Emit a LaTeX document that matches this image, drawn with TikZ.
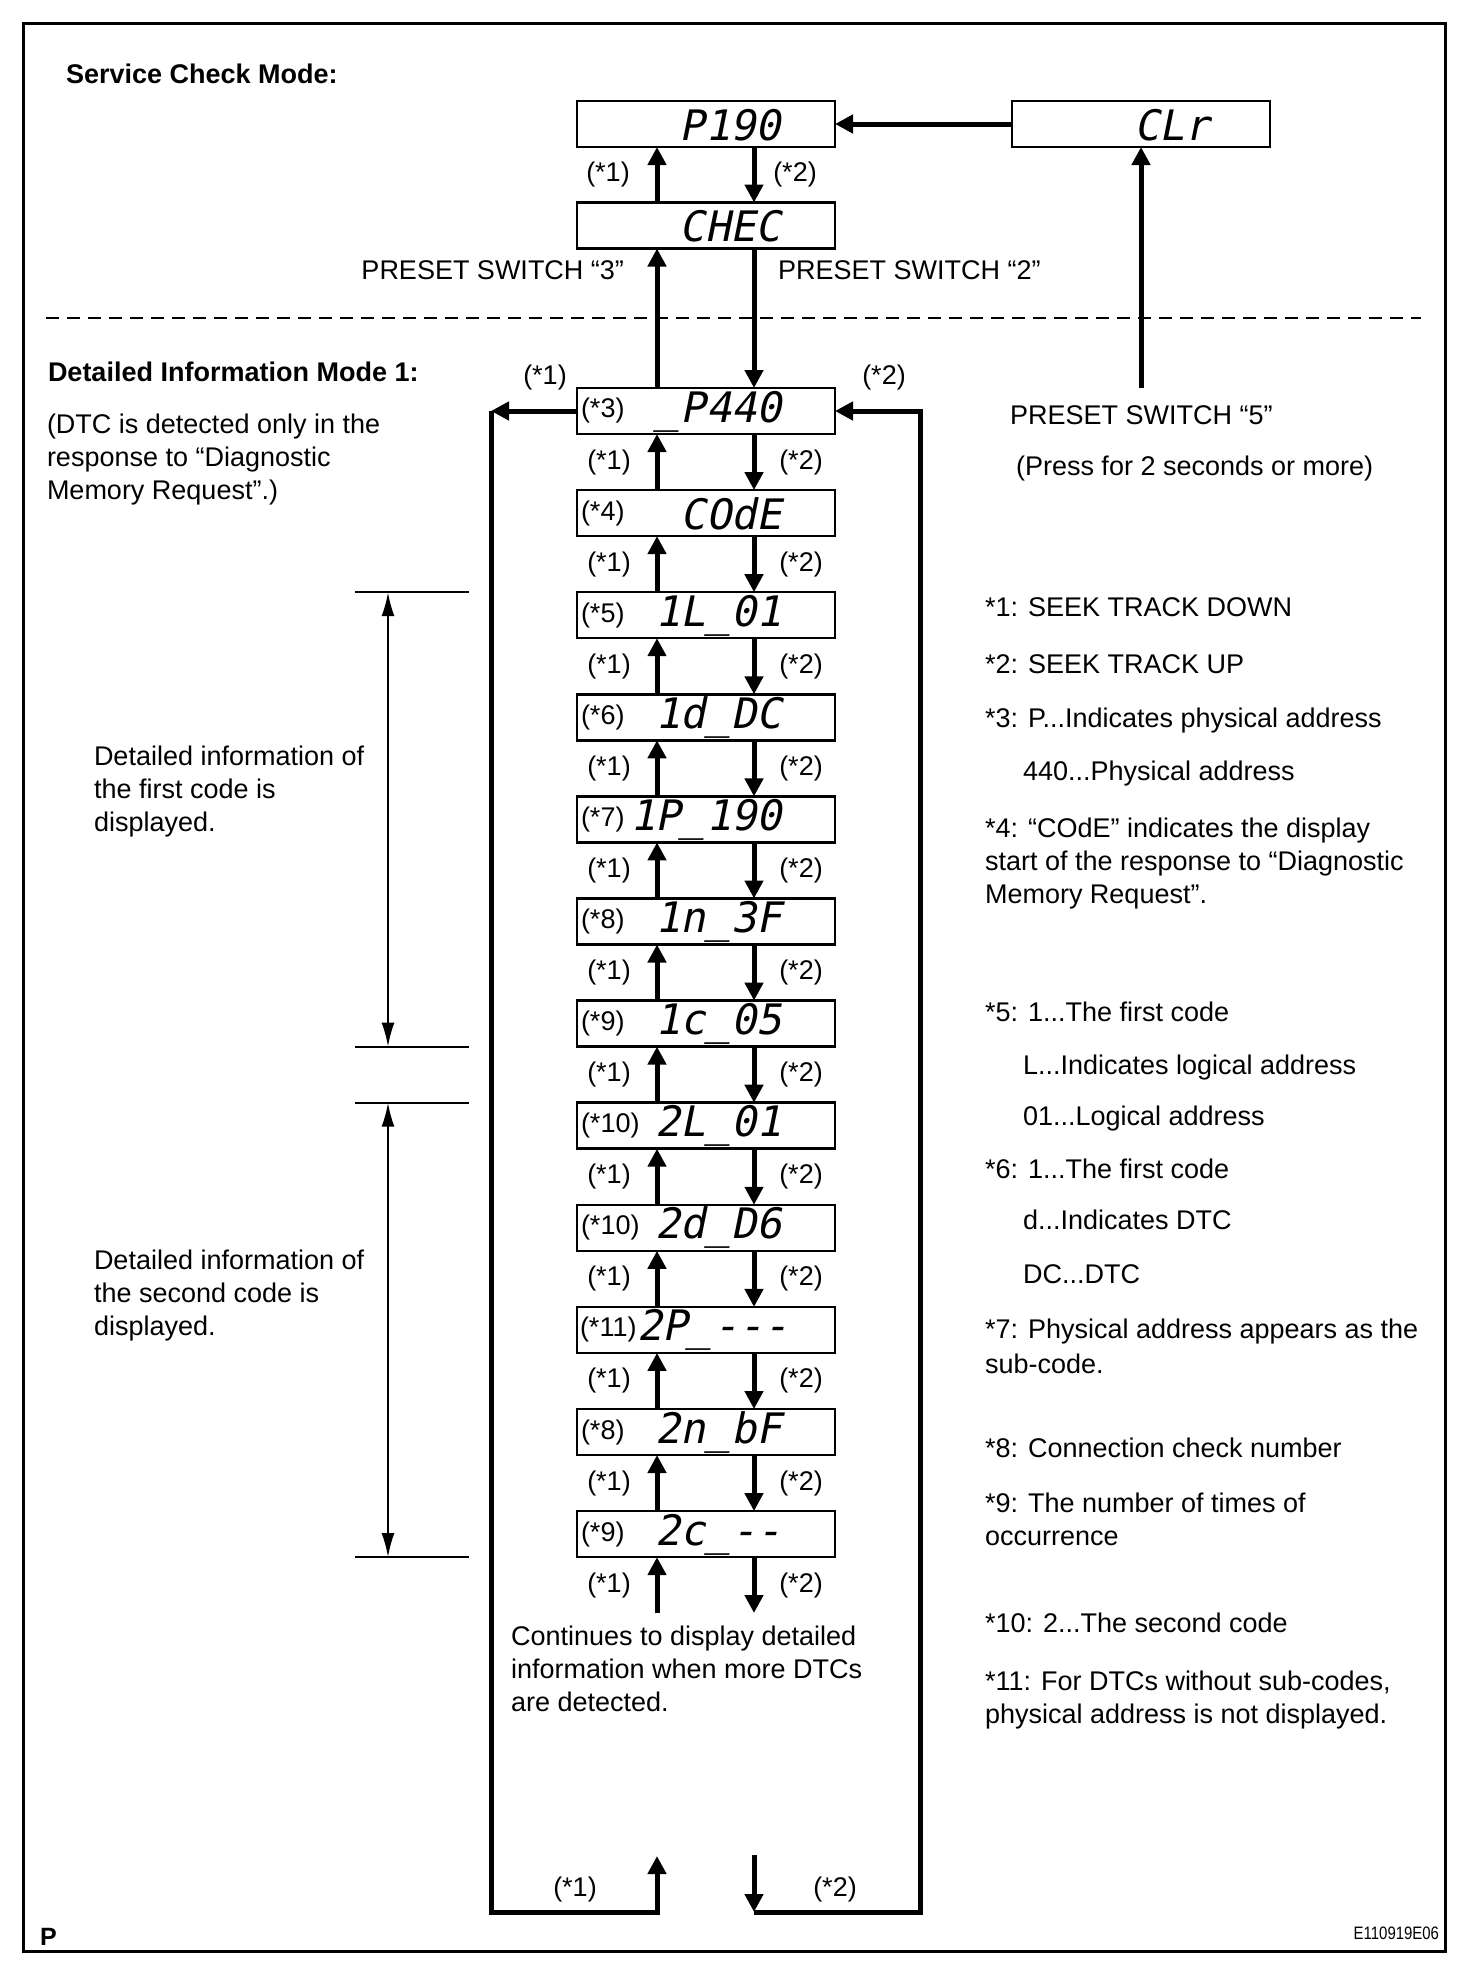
\documentclass[tikz,border=0pt]{standalone}
\usepackage{fontspec}
\setmainfont{Liberation Sans}
\newfontfamily\segfont[FakeSlant=0.2]{DejaVu Sans Mono}
\newfontfamily\codefont[FakeStretch=0.83]{Liberation Sans}
\usetikzlibrary{arrows.meta,calc}
\begin{document}
\begin{tikzpicture}[x=1pt,y=-1pt,
  every node/.style={inner sep=0pt,outer sep=0pt},
  txt/.style={font=\fontsize{27}{33}\selectfont,anchor=base west},
  txte/.style={font=\fontsize{27}{33}\selectfont,anchor=base east},
  btxt/.style={font=\fontsize{27}{33}\selectfont\bfseries,anchor=base west},
  lbl/.style={font=\fontsize{27}{33}\selectfont,anchor=center},
  box/.style={draw,line width=2.5pt,minimum width=258pt,minimum height=46pt},
  seg/.style={font=\fontsize{42}{46}\segfont,anchor=base east},
  thk/.style={line width=5pt,-{Triangle[length=18pt,width=18pt]}},
  dim/.style={line width=2pt,{Latex[length=24pt,width=13pt]}-{Latex[length=24pt,width=13pt]}},
  tick/.style={line width=2pt},
  frame/.style={line width=3pt}]
\useasboundingbox (0,0) rectangle (1472,1986);
\draw[frame] (23,23) rectangle (1445,1951);

% ---------- Service check mode
\node[btxt] (h1) at (66,83) {Service Check Mode:};
\node[box] (p190) at (706,124) {};
\node[seg] (p190t) at ($(p190.west)+(204,16)$) {P190};
\node[box] (chec) at (706,225.5) {};
\node[seg] (chect) at ($(chec.west)+(204,16)$) {CHEC};
\node[box] (clr) at (1141,124) {};
\node[seg] (clrt) at ($(clr.west)+(198,16)$) {CLr};

\coordinate (ux) at (657,0);
\coordinate (dx) at (754,0);

\draw[thk] (clr.west) -- (p190.east);
\draw[thk] (chec.north -| ux) -- (p190.south -| ux);
\draw[thk] (p190.south -| dx) -- (chec.north -| dx);
\node[lbl] (l01) at (608,175) {(*1)};
\node[lbl] (l02) at (795,175) {(*2)};

\node[txte] (ps3) at (624,279) {PRESET SWITCH “3”};
\node[txt] (ps2) at (778,279) {PRESET SWITCH “2”};

\draw[line width=2pt,dash pattern=on 13pt off 8pt] (46,318) -- (1421,318);

\node[txt] (ps5) at (1010,424) {PRESET SWITCH “5”};
\node[txt] (ps5b) at (1016,475) {(Press for 2 seconds or more)};

% ---------- Detailed information mode
\node[btxt] (h2) at (48,381) {Detailed Information Mode 1:};
\node[txt] (d1) at (47,433) {(DTC is detected only in the};
\node[txt] (d2) at (47,466) {response to “Diagnostic};
\node[txt] (d3) at (47,499) {Memory Request”.)};

\foreach \k/\lab/\disp/\dy/\dx/\lx in {0/(*3)/\_P440/11/205/4, 1/(*4)/COdE/16/205/4,
   2/(*5)/1L\_01/11/205/4, 3/(*6)/1d\_DC/11/205/4, 4/(*7)/1P\_190/11/205/4,
   5/(*8)/1n\_3F/11/205/4, 6/(*9)/1c\_05/11/205/4, 7/(*10)/2L\_01/11/205/4,
   8/(*10)/2d\_D6/11/205/4, 9/(*11)/2P\_-\kern0pt-\kern0pt-/11/212/3,
   10/(*8)/2n\_bF/11/205/4, 11/(*9)/2c\_-\kern0pt-/11/205/4}{
  \node[box] (b\k) at (706,{411+102.1*\k}) {};
  \node[seg] (bt\k) at ($(b\k.west)+(\dx,\dy)$) {\disp};
  \node[font=\fontsize{27}{33}\selectfont,anchor=west] (bl\k) at ($(b\k.west)+(\lx,0)$) {\lab};
}

\draw[thk] (b0.north -| ux) -- (chec.south -| ux);
\draw[thk] (chec.south -| dx) -- (b0.north -| dx);
\node[lbl] (t1) at (545,378) {(*1)};
\node[lbl] (t2) at (884,378) {(*2)};
\draw[thk] (clr.south |- b0.north) -- (clr.south);

\foreach \i in {1,...,11}{
  \pgfmathtruncatemacro\j{\i-1}
  \draw[thk] (b\i.north -| ux) -- (b\j.south -| ux);
  \draw[thk] (b\j.south -| dx) -- (b\i.north -| dx);
  \node[lbl] (u\i) at (609,{411+102.1*(\i-0.5)}) {(*1)};
  \node[lbl] (v\i) at (801,{411+102.1*(\i-0.5)}) {(*2)};
}

\coordinate (endu) at (657,1613);
\coordinate (endd) at (754,1613);
\draw[thk] (endu) -- (b11.south -| ux);
\draw[thk] (b11.south -| dx) -- (endd);
\node[lbl] (u12) at (609,1585) {(*1)};
\node[lbl] (v12) at (801,1585) {(*2)};

\node[txt] (c1) at (511,1645) {Continues to display detailed};
\node[txt] (c2) at (511,1678) {information when more DTCs};
\node[txt] (c3) at (511,1711) {are detected.};

% ---------- wrap-around loop
\coordinate (lc) at (491,411);
\coordinate (lb) at (491,1912);
\coordinate (lu) at (657,1856);
\coordinate (rd) at (754,1855);
\coordinate (rc) at (754,1912);
\coordinate (rt) at (920,411);
\draw[thk] (b0.west) -- (lc);
\draw[thk] (lc) -- (lb) -| (lu);
\draw[thk] (rd) -- (rc);
\draw[thk] (rc) -| (rt) -- (b0.east);
\node[lbl] (w1) at (575,1889) {(*1)};
\node[lbl] (w2) at (835,1889) {(*2)};

% ---------- dimension lines
\coordinate (dmx) at (388,0);
\coordinate (tl) at (355,0);
\coordinate (tr) at (469,0);
\draw[tick] (tl |- b2.north) -- (tr |- b2.north);
\draw[tick] (tl |- b6.south) -- (tr |- b6.south);
\draw[tick] (tl |- b7.north) -- (tr |- b7.north);
\draw[tick] (tl |- b11.south) -- (tr |- b11.south);
\draw[dim] (dmx |- b2.north) -- (dmx |- b6.south);
\draw[dim] (dmx |- b7.north) -- (dmx |- b11.south);

\node[txt] (f1) at (94,765) {Detailed information of};
\node[txt] (f2) at (94,798) {the first code is};
\node[txt] (f3) at (94,831) {displayed.};
\node[txt] (s1) at (94,1269) {Detailed information of};
\node[txt] (s2) at (94,1302) {the second code is};
\node[txt] (s3) at (94,1335) {displayed.};

% ---------- notes
\node[txt] (n1) at (985,616) {*1: SEEK TRACK DOWN};
\node[txt] (n2) at (985,673) {*2: SEEK TRACK UP};
\node[txt] (n3) at (985,727) {*3: P...Indicates physical address};
\node[txt] (n3b) at (1023,780) {440...Physical address};
\node[txt] (n4) at (985,837) {*4: “COdE” indicates the display};
\node[txt] (n4b) at (985,870) {start of the response to “Diagnostic};
\node[txt] (n4c) at (985,903) {Memory Request”.};
\node[txt] (n5) at (985,1021) {*5: 1...The first code};
\node[txt] (n5b) at (1023,1074) {L...Indicates logical address};
\node[txt] (n5c) at (1023,1125) {01...Logical address};
\node[txt] (n6) at (985,1178) {*6: 1...The first code};
\node[txt] (n6b) at (1023,1229) {d...Indicates DTC};
\node[txt] (n6c) at (1023,1283) {DC...DTC};
\node[txt] (n7) at (985,1338) {*7: Physical address appears as the};
\node[txt] (n7b) at (985,1373) {sub-code.};
\node[txt] (n8) at (985,1457) {*8: Connection check number};
\node[txt] (n9) at (985,1512) {*9: The number of times of};
\node[txt] (n9b) at (985,1545) {occurrence};
\node[txt] (n10) at (985,1632) {*10: 2...The second code};
\node[txt] (n11) at (985,1690) {*11: For DTCs without sub-codes,};
\node[txt] (n11b) at (985,1723) {physical address is not displayed.};

% ---------- footer
\node[font=\fontsize{25}{30}\selectfont\bfseries,anchor=base west] (pp) at (40,1945) {P};
\node[font=\fontsize{18}{20}\codefont,anchor=base east] (code) at (1439,1939) {E110919E06};
\end{tikzpicture}
\end{document}
